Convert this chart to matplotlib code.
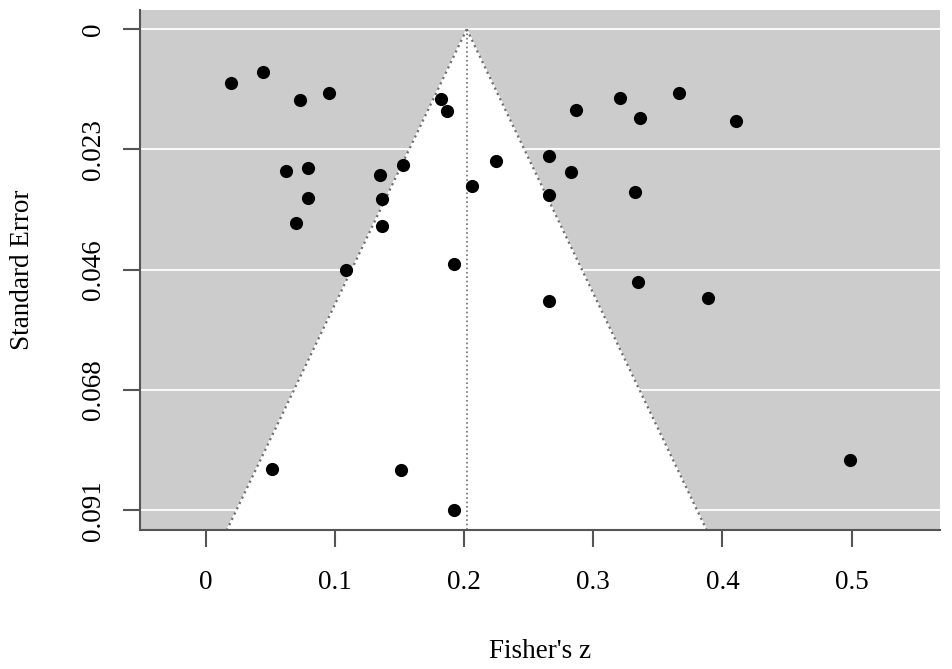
import numpy as np
import matplotlib
matplotlib.use("Agg")
import matplotlib.pyplot as plt

# study effect sizes (Fisher's z) and their standard errors
fisher_z = [0.0195, 0.0445, 0.0732, 0.0954, 0.1821, 0.1869,
            0.0623, 0.0791, 0.1351, 0.1527, 0.2244, 0.2063,
            0.0791, 0.1362, 0.0701, 0.1364, 0.1085, 0.1924,
            0.2868, 0.3209, 0.3661, 0.3361, 0.4102,
            0.2659, 0.2827, 0.2659, 0.3322,
            0.3343, 0.3890, 0.2659,
            0.0515, 0.1514, 0.1924, 0.4988]
std_err = [0.0101, 0.0080, 0.0134, 0.0121, 0.0132, 0.0155,
           0.0268, 0.0262, 0.0275, 0.0256, 0.0249, 0.0296,
           0.0319, 0.0321, 0.0366, 0.0372, 0.0455, 0.0444,
           0.0152, 0.0131, 0.0120, 0.0168, 0.0174,
           0.0240, 0.0270, 0.0313, 0.0308,
           0.0479, 0.0508, 0.0514,
           0.0831, 0.0833, 0.0910, 0.0814]
pooled = 0.202

x_ticks = [0, 0.1, 0.2, 0.3, 0.4, 0.5]
x_labels = ["0", "0.1", "0.2", "0.3", "0.4", "0.5"]
se_max = 0.091
y_labels = ["0", "0.023", "0.046", "0.068", "0.091"]
y_ticks = np.linspace(0, se_max, 5)

plt.rcParams['font.family'] = ['Liberation Serif', 'DejaVu Serif']

fig = plt.figure(figsize=(9.52, 6.69), dpi=100)
ax = fig.add_axes([0.1474, 0.2085, 0.84, 0.7766])

xlim = (-0.0507, 0.5684)
ylim = (-se_max * 0.04, se_max * 1.04)
ax.set_xlim(xlim)
ax.set_ylim(ylim[1], ylim[0])

ax.set_facecolor('#cccccc')

# white funnel region (pseudo 95% CI)
se_bot = ylim[1]
ax.fill([pooled, pooled - 1.96 * se_bot, pooled + 1.96 * se_bot],
        [0, se_bot, se_bot], color='white', zorder=1)

# white reference lines at y ticks
for yv in y_ticks:
    ax.axhline(yv, color='white', lw=1.3, zorder=0.5)

se_line = np.array([0, se_bot])
ax.plot(pooled - 1.96 * se_line, se_line, color='#707070', ls=':', lw=1.6, zorder=2)
ax.plot(pooled + 1.96 * se_line, se_line, color='#707070', ls=':', lw=1.6, zorder=2)
ax.plot([pooled, pooled], [0, se_bot], color='#707070', ls=':', lw=1.2, zorder=2)

ax.scatter(fisher_z, std_err, s=90, color='black', zorder=3, linewidths=0)

for side in ['top', 'right']:
    ax.spines[side].set_visible(False)
for side in ['left', 'bottom']:
    ax.spines[side].set_color('#555555')
    ax.spines[side].set_linewidth(1.5)

ax.set_xticks(x_ticks)
ax.set_xticklabels(x_labels, fontsize=19.5)
ax.set_yticks(y_ticks)
ax.set_yticklabels(y_labels, fontsize=19.5, rotation=90, va='center')
ax.tick_params(axis='both', length=12.5, width=1.5, color='#555555')
ax.tick_params(axis='x', pad=17)
ax.tick_params(axis='y', pad=12)

fig.text(540 / 952, 1 - 652 / 669, "Fisher's z", ha='center', va='center', fontsize=19.5)
fig.text(23 / 952, 1 - 270 / 669, "Standard Error", ha='center', va='center',
         rotation=90, fontsize=19.5)

fig.savefig('out.png', dpi=100)
